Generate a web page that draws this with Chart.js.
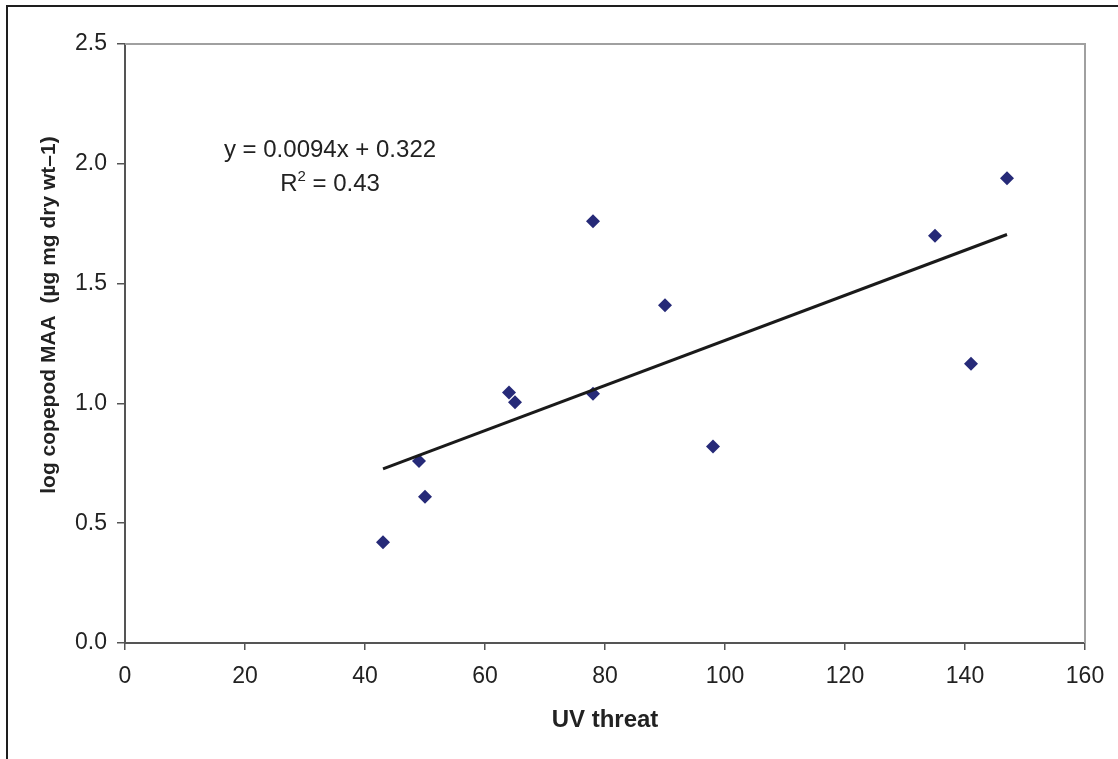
<!DOCTYPE html>
<html lang="en">
<head>
    <meta charset="UTF-8">
    <script src="https://cdn.jsdelivr.net/npm/chart.js"></script>
    <title>UV threat vs copepod MAA</title>
    <style>
        body {
            margin: 0;
            background: #fff;
        }
        .chart-container {
            position: relative;
            width: 1118px;
            height: 759px;
        }
    </style>
</head>
<body>

<div class="chart-container">
    <canvas id="maa"></canvas>
</div>

<script>
    // UV threat (x) and log copepod MAA (y)
    const uvThreat = [43, 49, 50, 64, 65, 78, 78, 90, 98, 135, 141, 147];
    const logMaa = [0.42, 0.76, 0.61, 1.045, 1.005, 1.76, 1.04, 1.41, 0.82, 1.70, 1.165, 1.94];

    // linear trend line ends
    const trendX = [43, 147];
    const trendY = [0.727, 1.705];

    const eqText = 'y = 0.0094x + 0.322';
    const r2Value = ' = 0.43';
    const xTitle = 'UV threat';
    const yTitle = 'log copepod MAA  (\u00b5g mg dry wt\u20131)';

    const fontName = '"Liberation Sans", Arial, sans-serif';

    // frame, plot edges and texts that Excel puts around the chart
    const decorations = {
        id: 'decorations',
        afterDraw(chart) {
            const c = chart.ctx;
            const a = chart.chartArea;
            c.save();
            // outer frame (top and left are visible)
            c.strokeStyle = '#1e1e1e';
            c.lineWidth = 2;
            c.beginPath();
            c.moveTo(7, 759);
            c.lineTo(7, 6);
            c.lineTo(1118, 6);
            c.stroke();

            // grey top and right edge of the plot area
            c.strokeStyle = '#a0a0a0';
            c.lineWidth = 2;
            c.beginPath();
            c.moveTo(a.left, a.top);
            c.lineTo(a.right, a.top);
            c.lineTo(a.right, a.bottom);
            c.stroke();

            c.fillStyle = '#222';
            // equation
            c.font = '24px ' + fontName;
            c.textAlign = 'center';
            c.textBaseline = 'alphabetic';
            c.fillText(eqText, 330, 157);
            // R² with superscript
            const wR = c.measureText('R').width;
            const wRest = c.measureText(r2Value).width;
            c.font = '15px ' + fontName;
            const wSup = c.measureText('2').width;
            const total = wR + wSup + wRest;
            let x0 = 330 - total / 2;
            c.textAlign = 'left';
            c.font = '24px ' + fontName;
            c.fillText('R', x0, 191);
            c.font = '15px ' + fontName;
            c.fillText('2', x0 + wR, 181);
            c.font = '24px ' + fontName;
            c.fillText(r2Value, x0 + wR + wSup, 191);

            // axis titles
            c.font = 'bold 24px ' + fontName;
            c.textAlign = 'center';
            c.fillText(xTitle, (a.left + a.right) / 2, 727);

            c.font = 'bold 21px ' + fontName;
            c.translate(55, 315);
            c.rotate(-Math.PI / 2);
            c.fillText(yTitle, 0, 0);
            c.restore();
        }
    };

    var ctx = document.getElementById('maa');

    var chart = new Chart(ctx, {
        type: 'scatter',
        data: {
            datasets: [{
                label: 'MAA',
                data: uvThreat.map((x, i) => ({x: x, y: logMaa[i]})),
                pointStyle: 'rectRot',
                pointRadius: 7,
                backgroundColor: '#262a78',
                borderColor: '#262a78',
                borderWidth: 0,
                order: 2
            }, {
                label: 'Linear',
                data: trendX.map((x, i) => ({x: x, y: trendY[i]})),
                showLine: true,
                pointRadius: 0,
                borderColor: '#1a1a1a',
                borderWidth: 3,
                order: 1
            }]
        },
        options: {
            animation: false,
            responsive: true,
            maintainAspectRatio: false,
            layout: {
                padding: {top: 44, right: 33, bottom: 0, left: 0}
            },
            scales: {
                x: {
                    type: 'linear',
                    min: 0,
                    max: 160,
                    afterFit: s => { s.height = 116; },
                    ticks: {
                        stepSize: 20,
                        padding: 13,
                        color: '#222',
                        font: {family: fontName, size: 23}
                    },
                    grid: {
                        drawOnChartArea: false,
                        tickLength: 7,
                        color: '#555',
                        lineWidth: 1.5
                    },
                    border: {color: '#555', width: 2}
                },
                y: {
                    min: 0,
                    max: 2.5,
                    afterFit: s => { s.width = 125; },
                    ticks: {
                        stepSize: 0.5,
                        padding: 10,
                        color: '#222',
                        font: {family: fontName, size: 23},
                        callback: v => v.toFixed(1)
                    },
                    grid: {
                        drawOnChartArea: false,
                        tickLength: 8,
                        color: '#555',
                        lineWidth: 1.5
                    },
                    border: {color: '#555', width: 2}
                }
            },
            plugins: {
                legend: {display: false},
                tooltip: {enabled: false}
            }
        },
        plugins: [decorations]
    });
</script>

</body>
</html>
